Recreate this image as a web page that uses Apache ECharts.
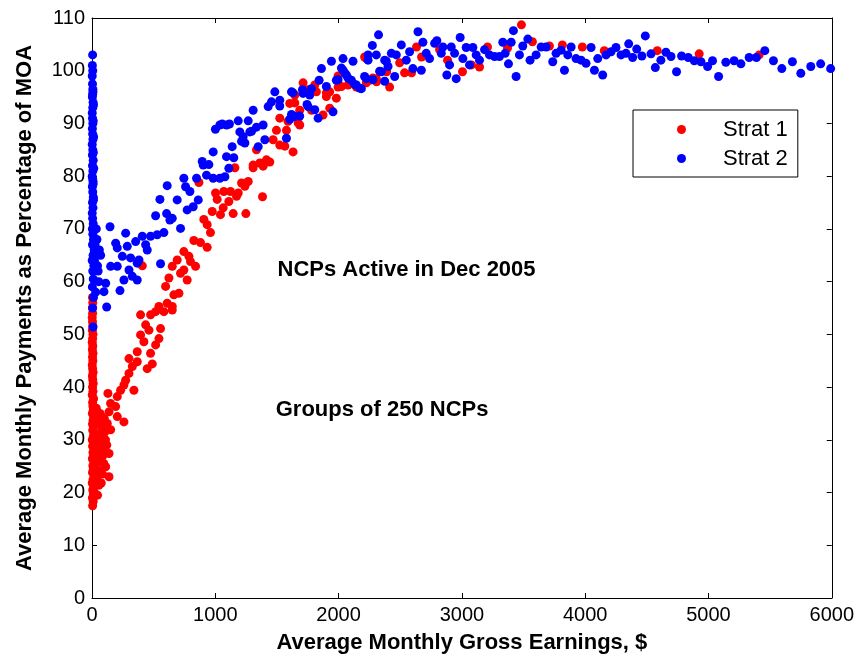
<!DOCTYPE html>
<html>
<head>
<meta charset="utf-8">
<script src="https://cdn.jsdelivr.net/npm/echarts@6/dist/echarts.min.js"></script>
<style>html,body{margin:0;padding:0;background:#fff}#c{width:857px;height:659px}</style>
</head>
<body>
<div id="c"></div>
<script>
// ---- data ----
const xTicks = [0, 1000, 2000, 3000, 4000, 5000, 6000];
const yTicks = [0, 10, 20, 30, 40, 50, 60, 70, 80, 90, 100, 110];
const seriesNames = ['Strat 1', 'Strat 2'];
const xTitle = 'Average Monthly Gross Earnings, $';
const yTitle = 'Average Monthly Payments as Percentage of MOA';
const notes = ['NCPs Active in Dec 2005', 'Groups of 250 NCPs'];

const strat1 = [
[5,17.5],[10,18.3],[3,19],[12,19.8],[6,20.5],[15,21.2],[2,21.8],[9,22.5],[18,23.2],[4,23.8],[11,24.5],[7,25.1],[16,25.8],[3,26.4],[13,27],[8,27.6],[20,28.2],[5,28.8],[14,29.4],[2,30],[10,30.6],[17,31.2],[6,31.8],[12,32.4],[4,33],[9,33.7],[15,34.3],[3,35],[11,35.7],[7,36.4],[5,37.1],[13,37.8],[2,38.5],[8,39.2],[4,40],[10,40.7],[6,41.4],[3,42.1],[9,42.8],[5,43.5],[2,44.2],[7,45],[4,45.7],[8,46.4],[3,47.1],[6,47.8],[2,48.5],[5,49.2],[8,50],[3,50.8],[6,51.6],[4,52.4],[2,53.2],[5,54],[3,55],[6,56],[4,57],
[30,23.9],[57,21.4],[16,20.2],[43,25.8],[84,26.8],[138,27.4],[43,28.7],[97,29.6],[57,30.6],[151,31.9],[84,32.2],[30,33.1],[124,33.1],[138,35.3],[205,34.4],[259,33.4],[111,24.9],[138,23],[35,27],[70,26],[90,28],[60,29],[110,30],[45,31],[80,32],[25,34],[100,34],[65,35],[30,25.5],[75,21.8],[50,27.5],[95,25.5],[120,29],[85,23.5],[40,22.5],[55,24.2],[70,30.2],[25,29.8],[105,31.5],[60,33.5],[35,36],[75,34.5],[45,19.5],[20,26.5],[65,27.8],[90,31],
[192,36.3],[151,36.9],[205,38.2],[129,38.8],[232,39.4],[340,39.4],[259,40.4],[273,41.3],[300,42.6],[327,43.9],[448,43.5],[489,44.4],[367,44.8],[300,45.4],[475,46.4],[367,46.7],[421,48.6],[516,48],[394,49.9],[543,49.2],[462,50.8],[556,51.1],[435,51.8],[394,53.7],[475,53.7],[516,54.3],[583,54.3],[651,54.6],[543,55.3],[651,55.3],[610,55.9],[664,57.5],[705,57.8],[597,59.1],[624,60.7],[772,60.3],[718,61.6],[745,62.2],[651,62.9],[840,62.9],[408,63],[799,63.8],[691,64.1],[786,64.8],[745,65.7],[934,66.5],[880,67.4],[826,67.8],[961,69.3],[934,70.8],[907,71.8],[1042,72.7],[1145,72.9],[1248,72.9],[975,73.3],[1064,74],[1110,75.2],[1015,75.6],[1383,76.1],[1172,76.2],[1002,76.8],[1186,76.8],[1069,77.1],[1123,77.1],[1240,78.1],[1213,78.7],[867,78.8],[1267,79],[1307,81.6],[1159,81.6],[1388,81.9],[1307,82.1],[1375,82.4],[1361,82.5],[1442,82.7],[1415,83.1],[1631,84.6],[1334,85],[1523,85.9],[1564,85.7],[1469,86.9],[1496,88.7],[1577,88.7],[1685,89.7],[1590,90.4],[1672,90.1],[1523,91],[1874,91.6],[1685,92.5],[1780,92.5],[1928,92.9],[1604,93.8],[1645,93.9],[1982,94.8],[1645,95.4],[1901,95.1],[1901,95.8],[1928,96],[1820,96],[1753,96.4],[1996,96.9],[2144,96.9],[2023,97],[2077,97.3],[1807,97.3],[1712,97.7],[2225,97.7],[2252,98.2],[2306,98.5],[2277,98.6],[1996,99],[2308,97.9],[2414,96.9],[2390,99.8],[2535,99.6],[2592,99.6],[2225,102.3],[2211,102.6],[2495,101.5],[2632,104.5],[2673,102.6],[2819,104],[2884,102],[3005,99.8],[3078,101.1],[3143,100.7],[3208,104.5],[3370,104.3],[3483,108.7],[3572,105.5],[3710,104.7],[3815,104.9],[3977,104.5],[4155,103.8],[4585,103.8],[4925,103.2],[5411,103]
];

const strat2 = [
[8,51.4],[5,55],[12,57],[3,59],[10,60.5],[6,62],[15,63],[2,64],[9,65],[18,66],[4,67],[12,68],[7,69],[3,70],[10,71],[5,72],[2,73],[8,74],[4,75],[11,76],[6,77],[3,78],[9,79],[5,79.5],[2,80],[7,81],[4,82],[10,83],[3,84],[6,85],[2,86],[8,87],[5,88],[3,89],[7,90],[4,91],[2,92],[6,93],[9,94],[3,95],[5,95.5],[7,96.5],[4,97.5],[2,99],[6,100],[3,101],[5,103],[12,75.5],[9,78.5],[14,81.5],[11,84.5],[13,87.5],[10,90.5],[12,93.5],[8,96],
[30,58],[50,62],[20,64],[60,66],[40,68],[70,65],[35,70],[55,60],[25,67],[45,63],[119,55.2],[97,58.1],[111,59.7],[227,58.3],[259,60.3],[367,60.3],[327,61],[300,62.2],[151,62.9],[205,62.9],[556,63.4],[367,63.5],[381,64.1],[313,64.5],[246,64.8],[448,66],[205,66.4],[286,66.7],[435,67],[192,67.3],[354,67.6],[408,68.6],[475,68.6],[529,68.9],[273,69.2],[583,69.3],[718,70.1],[146,70.4],[651,72],[516,72.5],[605,72.9],[632,71.7],[772,73.6],[821,74.2],[551,75.6],[691,75.5],[862,75.5],[794,77.1],[759,78],[610,78.2],[745,79.6],[848,79.6],[983,79.6],[1037,79.6],[1078,79.9],[929,80.2],[1110,81.5],[902,82.1],[948,82.2],[894,82.8],[1091,83.7],[1150,83.5],[983,84.6],[1137,85.6],[1348,85.6],[1240,86.3],[1213,86.6],[1402,86.9],[1577,87.2],[1226,87.5],[1199,88.4],[1280,88.4],[1294,88.5],[1001,88.9],[1334,89.3],[1388,89.7],[1091,89.7],[1037,89.7],[1056,89.9],[1115,89.9],[1186,90.5],[1267,90.5],[1604,90.8],[1834,91],[1645,91.3],[1685,91.4],[1618,91.7],[1955,92.2],[1307,92.5],[1807,92.6],[1753,93.2],[1429,93.2],[1523,93.3],[1744,93.6],[1456,94.1],[1523,94.4],[1766,95.4],[1712,95.7],[1631,95.8],[1618,96],[1483,96],[1707,96.4],[1780,96.6],[2185,96.6],[2171,96.7],[1901,97],[2144,97.3],[2131,97.4],[1982,98.2],[1842,98.2],[2104,98.2],[2225,98.5],[1996,98.3],[2279,98.3],[2077,98.6],[2374,98],[2211,98.9],[2455,98.9],[2063,99.2],[2050,99.6],[2036,100.1],[2333,99.9],[2347,99.8],[1861,100.4],[2023,100.5],[2401,100.8],[2603,100.4],[2671,100.1],[1942,101.8],[2117,101.8],[2387,101.8],[2036,102.3],[2239,102],[2374,102],[2239,103],[2306,103],[2428,103.3],[2468,103],[2576,103.6],[2274,104.8],[2509,104.9],[2324,106.8],[2549,102],[2644,107.4],[2684,105.4],[2711,103.3],[2738,102.3],[2779,105.2],[2797,105.7],[2833,103.3],[2846,104.5],[2878,99.2],[2900,101.1],[2914,104.5],[2941,103.3],[2954,98.5],[2986,106.3],[3008,102.3],[3035,104.4],[3062,101.1],[3089,104.4],[3116,103],[3143,102],[3184,104],[3224,103],[3265,102.7],[3305,102.7],[3332,105.4],[3351,103.3],[3378,101.3],[3400,105.4],[3418,107.6],[3440,98.9],[3467,103],[3494,104.7],[3535,106],[3553,102],[3602,103],[3643,104.5],[3683,104.5],[3737,101.7],[3764,103.3],[3805,103.9],[3832,100.1],[3859,103],[3886,104.5],[3926,102.3],[3967,102],[4007,101.4],[4048,104.4],[4075,100.1],[4102,102.3],[4142,99.2],[4169,103],[4210,103.6],[4250,104.4],[4291,103],[4331,103.3],[4353,105.1],[4385,102.5],[4418,104.1],[4460,102.8],[4488,106.6],[4534,103.2],[4569,100.6],[4614,102],[4655,103.5],[4696,102.7],[4741,99.8],[4782,102.8],[4836,102.5],[4885,101.9],[4939,101.7],[4993,100.8],[5033,101.9],[5082,98.9],[5141,101.6],[5208,101.9],[5263,101.3],[5330,102.5],[5389,102.5],[5457,103.8],[5527,101.9],[5595,100.4],[5681,101.7],[5749,99.5],[5830,100.8],[5910,101.3],[5991,100.4]
];

// ---- chart ----
const FONT = 'Liberation Sans, Arial, Helvetica, sans-serif';
const chart = echarts.init(document.getElementById('c'), null, {renderer: 'canvas'});
const axisCommon = {
  axisLine: {show: true, onZero: false, lineStyle: {color: '#000', width: 1}},
  axisTick: {show: true, inside: true, length: 5, lineStyle: {color: '#000'}},
  splitLine: {show: false}
};
const plain = v => String(v);
chart.setOption({
  animation: false,
  backgroundColor: '#fff',
  grid: {left: 92, right: 24, top: 18, bottom: 61, containLabel: false},
  legend: {
    data: seriesNames,
    orient: 'vertical',
    left: 633, top: 110,
    padding: [8, 10, 7, 44],
    itemGap: 6,
    itemWidth: 9, itemHeight: 9,
    icon: 'circle',
    borderColor: '#000', borderWidth: 1,
    backgroundColor: '#fff',
    textStyle: {fontFamily: FONT, fontSize: 22, color: '#000', padding: [0, 0, 0, 32], lineHeight: 23}
  },
  xAxis: [
    Object.assign({}, axisCommon, {
      type: 'value', min: xTicks[0], max: xTicks[xTicks.length - 1], interval: 1000, position: 'bottom',
      name: xTitle, nameLocation: 'middle', nameGap: 34,
      nameTextStyle: {fontFamily: FONT, fontSize: 22, fontWeight: 'bold', color: '#000'},
      axisLabel: {fontFamily: FONT, fontSize: 20, color: '#000', margin: 7, formatter: plain}
    }),
    Object.assign({}, axisCommon, {
      type: 'value', min: xTicks[0], max: xTicks[xTicks.length - 1], interval: 1000, position: 'top',
      axisLabel: {show: false}
    })
  ],
  yAxis: [
    Object.assign({}, axisCommon, {
      type: 'value', min: yTicks[0], max: yTicks[yTicks.length - 1], interval: 10, position: 'left',
      name: yTitle, nameLocation: 'middle', nameGap: 56, nameRotate: 90,
      nameTextStyle: {fontFamily: FONT, fontSize: 22, fontWeight: 'bold', color: '#000'},
      axisLabel: {fontFamily: FONT, fontSize: 20, color: '#000', margin: 7, formatter: plain}
    }),
    Object.assign({}, axisCommon, {
      type: 'value', min: yTicks[0], max: yTicks[yTicks.length - 1], interval: 10, position: 'right',
      axisLabel: {show: false}
    })
  ],
  series: [
    {name: seriesNames[0], type: 'scatter', data: strat1, symbol: 'circle', symbolSize: 9,
     itemStyle: {color: '#ff0000', opacity: 1}, z: 2},
    {name: seriesNames[1], type: 'scatter', data: strat2, symbol: 'circle', symbolSize: 9,
     itemStyle: {color: '#0000ff', opacity: 1}, z: 3}
  ]
});
// annotations placed at data coordinates
const p1 = chart.convertToPixel({xAxisIndex: 0, yAxisIndex: 0}, [1505, 62.2]);
const p2 = chart.convertToPixel({xAxisIndex: 0, yAxisIndex: 0}, [1490, 35.7]);
chart.setOption({
  graphic: [
    {type: 'text', x: p1[0], y: p1[1], style: {text: notes[0], fill: '#000', font: 'bold 22px ' + FONT, textVerticalAlign: 'middle'}},
    {type: 'text', x: p2[0], y: p2[1], style: {text: notes[1], fill: '#000', font: 'bold 22px ' + FONT, textVerticalAlign: 'middle'}}
  ]
});
</script>
</body>
</html>
